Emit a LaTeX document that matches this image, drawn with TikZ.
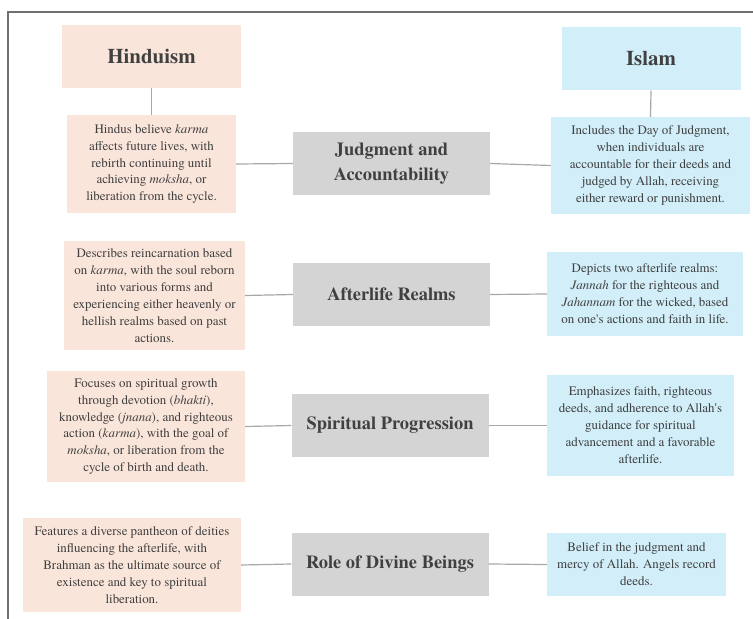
\documentclass[tikz,border=0pt]{standalone}
\usepackage{fontspec}
\setmainfont{TeX Gyre Termes}
\definecolor{peach}{HTML}{FAE5DA}
\definecolor{skyblue}{HTML}{D1EEF9}
\definecolor{topicgray}{HTML}{D4D4D4}
\definecolor{inkgray}{HTML}{404040}
\definecolor{linegray}{HTML}{A8A8A8}
\definecolor{framegray}{HTML}{707070}

\begin{document}
\begin{tikzpicture}[x=1bp,y=-1bp,
    box/.style={inner sep=0pt, align=center, text=inkgray, font=\fontsize{13}{17}\selectfont},
    hindubox/.style={box, fill=peach},
    islambox/.style={box, fill=skyblue},
    header/.style={inner sep=0pt, text=inkgray, font=\fontsize{21}{24}\selectfont\bfseries, minimum width=179bp, minimum height=63bp},
    topic/.style={fill=topicgray, inner sep=0pt, align=center, text=inkgray, font=\fontsize{18.5}{25}\selectfont\bfseries, minimum width=197bp, minimum height=63bp},
    link/.style={draw=linegray, line width=1.2bp}]
    \useasboundingbox (0,0) rectangle (753,619);
    % frame of the page
    \draw[framegray, line width=1.5bp] (8,619) -- (8,12) -- (753,12);

    % headers
    \node[header, fill=peach] (hindu) at (151.5,56.5) {Hinduism};
    \node[header, fill=skyblue] (islam) at (651,59) {Islam};

    % judgment
    \node[topic] (t1) at (391.5,163.5) {Judgment and\\Accountability};
    \node[hindubox, minimum width=169bp, minimum height=98bp] (h1) at (151.5,164)
        {Hindus believe \textit{karma}\\affects future lives, with\\rebirth continuing until\\achieving \textit{moksha}, or\\liberation from the cycle.};
    \node[islambox, minimum width=199bp, minimum height=97bp] (i1) at (650.5,165.5)
        {Includes the Day of Judgment,\\when individuals are\\accountable for their deeds and\\judged by Allah, receiving\\either reward or punishment.};

    % afterlife
    \node[topic] (t2) at (391.5,294.5) {Afterlife Realms};
    \node[hindubox, minimum width=181bp, minimum height=109bp] (h2) at (154.5,295.5)
        {Describes reincarnation based\\on \textit{karma}, with the soul reborn\\into various forms and\\experiencing either heavenly or\\hellish realms based on past\\actions.};
    \node[islambox, minimum width=196bp, minimum height=84bp] (i2) at (645,294)
        {Depicts two afterlife realms:\\\textit{Jannah} for the righteous and\\\textit{Jahannam} for the wicked, based\\on one\textquotesingle s actions and faith in life.};

    % progression
    \node[topic] (t3) at (390,425.5) {Spiritual Progression};
    \node[hindubox, minimum width=198bp, minimum height=111bp] (h3) at (146,426.5)
        {Focuses on spiritual growth\\through devotion (\textit{bhakti}),\\knowledge (\textit{jnana}), and righteous\\action (\textit{karma}), with the goal of\\\textit{moksha}, or liberation from the\\cycle of birth and death.};
    \node[islambox, minimum width=187bp, minimum height=101bp] (i3) at (640.5,425.5)
        {Emphasizes faith, righteous\\deeds, and adherence to Allah\textquotesingle s\\guidance for spiritual\\advancement and a favorable\\afterlife.};

    % divine beings
    \node[topic] (t4) at (390,564) {Role of Divine Beings};
    \node[hindubox, minimum width=218bp, minimum height=94bp] (h4) at (132,565)
        {Features a diverse pantheon of deities\\influencing the afterlife, with\\Brahman as the ultimate source of\\existence and key to spiritual\\liberation.};
    \node[islambox, minimum width=179bp, minimum height=63bp] (i4) at (636.5,564.5)
        {Belief in the judgment and\\mercy of Allah. Angels record\\deeds.};

    % connectors
    \draw[link] (hindu.south) -- (h1.north);
    \draw[link] (islam.south) -- (i1.north);
    \foreach \k in {1,2,3,4} {
        \draw[link] (h\k.east) -- (t\k.west);
        \draw[link] (t\k.east) -- (i\k.west);
    }
\end{tikzpicture}
\end{document}
